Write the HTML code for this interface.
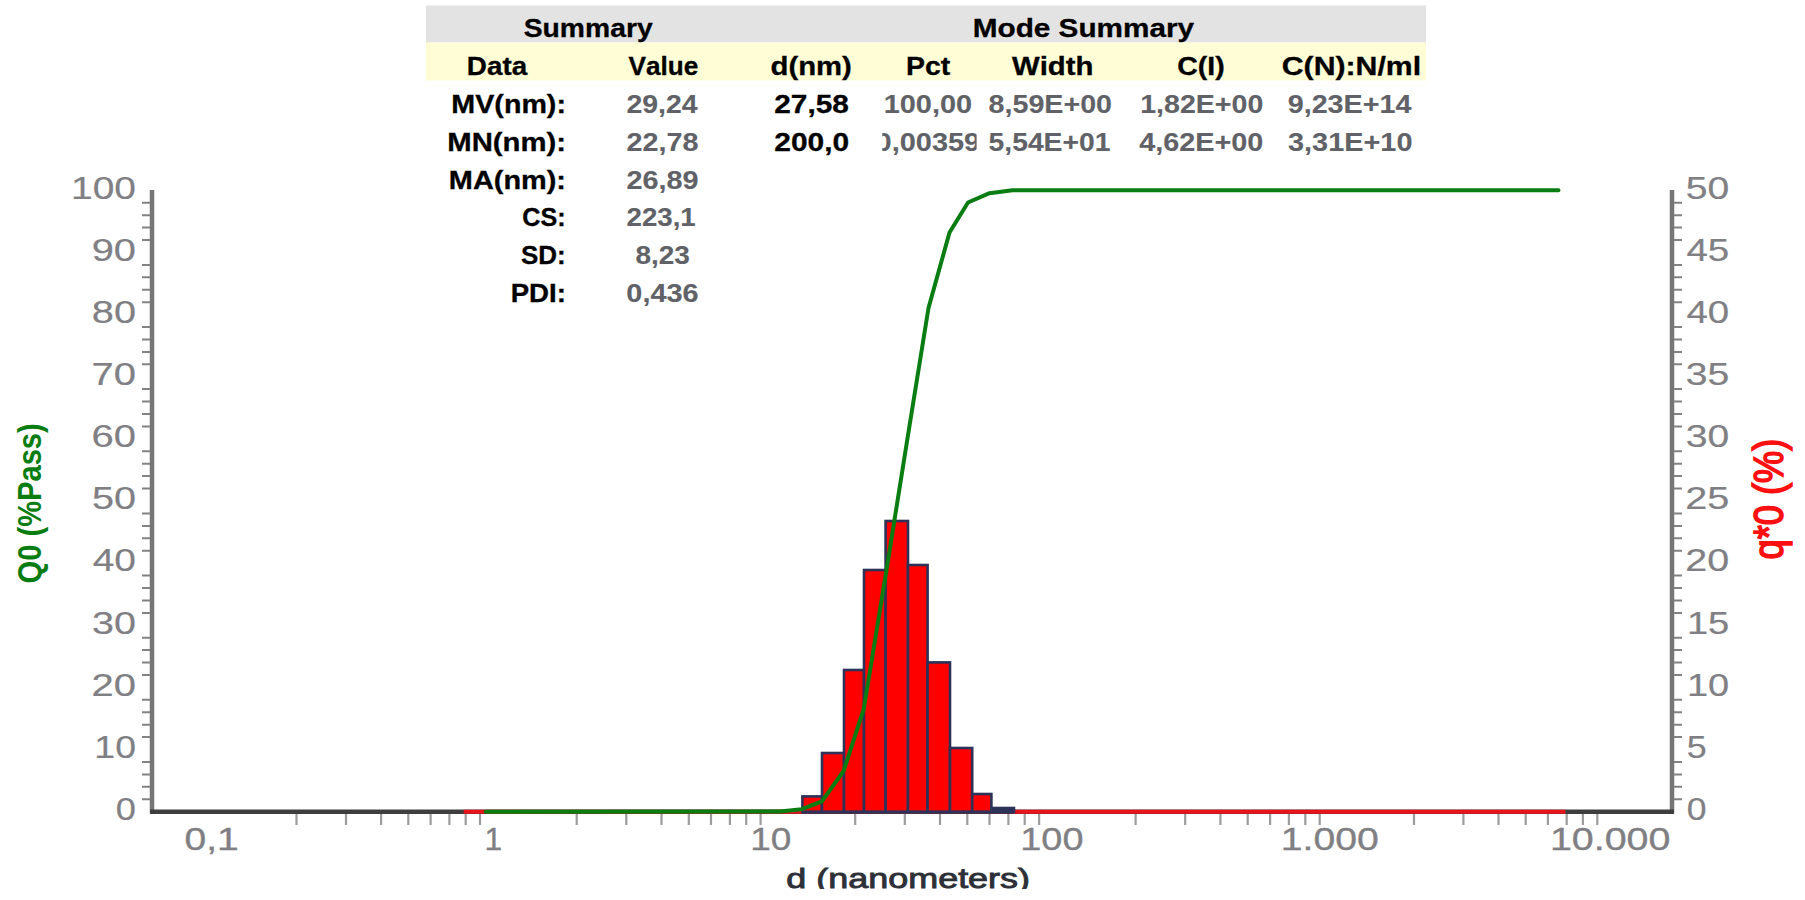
<!DOCTYPE html><html><head><meta charset="utf-8"><style>html,body{margin:0;padding:0;background:#fff;width:1805px;height:900px;overflow:hidden}svg{display:block}text{font-family:"Liberation Sans", sans-serif;font-kerning:none}</style></head><body>
<svg width="1805" height="900" viewBox="0 0 1805 900">
<defs><clipPath id="cpct"><rect x="882.3" y="120" width="94.3" height="40"/></clipPath><clipPath id="cxl"><rect x="700" y="850" width="400" height="39"/></clipPath></defs>
<rect x="426" y="5.5" width="1000" height="37" fill="#e3e3e3"/>
<rect x="426" y="42.5" width="1000" height="38" fill="#fffdd6"/>
<text x="523.68" y="37.30" font-size="26" font-weight="bold" fill="#000" stroke="#000" stroke-width="0.3" textLength="128.97" lengthAdjust="spacingAndGlyphs">Summary</text>
<text x="972.71" y="37.30" font-size="26" font-weight="bold" fill="#000" stroke="#000" stroke-width="0.3" textLength="221.45" lengthAdjust="spacingAndGlyphs">Mode Summary</text>
<text x="466.84" y="75.20" font-size="26" font-weight="bold" fill="#000" stroke="#000" stroke-width="0.3" textLength="60.28" lengthAdjust="spacingAndGlyphs">Data</text>
<text x="628.62" y="75.20" font-size="26" font-weight="bold" fill="#000" stroke="#000" stroke-width="0.3" textLength="69.77" lengthAdjust="spacingAndGlyphs">Value</text>
<text x="770.50" y="75.20" font-size="26" font-weight="bold" fill="#000" stroke="#000" stroke-width="0.3" textLength="81.36" lengthAdjust="spacingAndGlyphs">d(nm)</text>
<text x="906.10" y="75.20" font-size="26" font-weight="bold" fill="#000" stroke="#000" stroke-width="0.3" textLength="44.25" lengthAdjust="spacingAndGlyphs">Pct</text>
<text x="1011.97" y="75.20" font-size="26" font-weight="bold" fill="#000" stroke="#000" stroke-width="0.3" textLength="81.45" lengthAdjust="spacingAndGlyphs">Width</text>
<text x="1177.33" y="75.20" font-size="26" font-weight="bold" fill="#000" stroke="#000" stroke-width="0.3" textLength="47.38" lengthAdjust="spacingAndGlyphs">C(I)</text>
<text x="1281.76" y="75.20" font-size="26" font-weight="bold" fill="#000" stroke="#000" stroke-width="0.3" textLength="139.38" lengthAdjust="spacingAndGlyphs">C(N):N/ml</text>
<text x="451.38" y="113.00" font-size="26" font-weight="bold" fill="#000" stroke="#000" stroke-width="0.3" textLength="114.57" lengthAdjust="spacingAndGlyphs">MV(nm):</text>
<text x="447.34" y="150.80" font-size="26" font-weight="bold" fill="#000" stroke="#000" stroke-width="0.3" textLength="118.67" lengthAdjust="spacingAndGlyphs">MN(nm):</text>
<text x="448.87" y="188.50" font-size="26" font-weight="bold" fill="#000" stroke="#000" stroke-width="0.3" textLength="117.11" lengthAdjust="spacingAndGlyphs">MA(nm):</text>
<text x="522.27" y="226.20" font-size="26" font-weight="bold" fill="#000" stroke="#000" stroke-width="0.3" textLength="43.35" lengthAdjust="spacingAndGlyphs">CS:</text>
<text x="520.95" y="264.00" font-size="26" font-weight="bold" fill="#000" stroke="#000" stroke-width="0.3" textLength="44.75" lengthAdjust="spacingAndGlyphs">SD:</text>
<text x="510.65" y="301.70" font-size="26" font-weight="bold" fill="#000" stroke="#000" stroke-width="0.3" textLength="55.20" lengthAdjust="spacingAndGlyphs">PDI:</text>
<text x="626.51" y="113.00" font-size="26" font-weight="bold" fill="#606267" stroke="#606267" stroke-width="0.1" textLength="71.14" lengthAdjust="spacingAndGlyphs">29,24</text>
<text x="626.50" y="150.80" font-size="26" font-weight="bold" fill="#606267" stroke="#606267" stroke-width="0.1" textLength="71.88" lengthAdjust="spacingAndGlyphs">22,78</text>
<text x="626.50" y="188.50" font-size="26" font-weight="bold" fill="#606267" stroke="#606267" stroke-width="0.1" textLength="72.07" lengthAdjust="spacingAndGlyphs">26,89</text>
<text x="626.54" y="226.20" font-size="26" font-weight="bold" fill="#606267" stroke="#606267" stroke-width="0.1" textLength="69.23" lengthAdjust="spacingAndGlyphs">223,1</text>
<text x="635.41" y="264.00" font-size="26" font-weight="bold" fill="#606267" stroke="#606267" stroke-width="0.1" textLength="54.40" lengthAdjust="spacingAndGlyphs">8,23</text>
<text x="626.36" y="301.70" font-size="26" font-weight="bold" fill="#606267" stroke="#606267" stroke-width="0.1" textLength="72.18" lengthAdjust="spacingAndGlyphs">0,436</text>
<text x="774.27" y="113.00" font-size="26" font-weight="bold" fill="#000" stroke="#000" stroke-width="0.3" textLength="74.55" lengthAdjust="spacingAndGlyphs">27,58</text>
<text x="774.26" y="150.80" font-size="26" font-weight="bold" fill="#000" stroke="#000" stroke-width="0.3" textLength="74.86" lengthAdjust="spacingAndGlyphs">200,0</text>
<text x="883.68" y="113.00" font-size="26" font-weight="bold" fill="#606267" stroke="#606267" stroke-width="0.1" textLength="88.41" lengthAdjust="spacingAndGlyphs">100,00</text>
<text x="875.64" y="150.80" font-size="26" font-weight="bold" fill="#606267" stroke="#606267" stroke-width="0.1" textLength="104.48" lengthAdjust="spacingAndGlyphs" clip-path="url(#cpct)">0,00359</text>
<text x="988.59" y="113.00" font-size="26" font-weight="bold" fill="#606267" stroke="#606267" stroke-width="0.1" textLength="123.48" lengthAdjust="spacingAndGlyphs">8,59E+00</text>
<text x="988.63" y="150.80" font-size="26" font-weight="bold" fill="#606267" stroke="#606267" stroke-width="0.1" textLength="121.76" lengthAdjust="spacingAndGlyphs">5,54E+01</text>
<text x="1140.20" y="113.00" font-size="26" font-weight="bold" fill="#606267" stroke="#606267" stroke-width="0.1" textLength="123.17" lengthAdjust="spacingAndGlyphs">1,82E+00</text>
<text x="1139.16" y="150.80" font-size="26" font-weight="bold" fill="#606267" stroke="#606267" stroke-width="0.1" textLength="124.22" lengthAdjust="spacingAndGlyphs">4,62E+00</text>
<text x="1287.70" y="113.00" font-size="26" font-weight="bold" fill="#606267" stroke="#606267" stroke-width="0.1" textLength="123.75" lengthAdjust="spacingAndGlyphs">9,23E+14</text>
<text x="1288.04" y="150.80" font-size="26" font-weight="bold" fill="#606267" stroke="#606267" stroke-width="0.1" textLength="124.45" lengthAdjust="spacingAndGlyphs">3,31E+10</text>
<line x1="152" y1="190" x2="152" y2="813" stroke="#767676" stroke-width="4.5"/>
<line x1="1672" y1="190" x2="1672" y2="813" stroke="#767676" stroke-width="4.5"/>
<path d="M142 799.3H150M1674 799.3H1682M142 786.8H150M1674 786.8H1682M142 774.4H150M1674 774.4H1682M142 762.0H150M1674 762.0H1682M142 737.1H150M1674 737.1H1682M142 724.7H150M1674 724.7H1682M142 712.3H150M1674 712.3H1682M142 699.8H150M1674 699.8H1682M142 675.0H150M1674 675.0H1682M142 662.6H150M1674 662.6H1682M142 650.1H150M1674 650.1H1682M142 637.7H150M1674 637.7H1682M142 612.9H150M1674 612.9H1682M142 600.4H150M1674 600.4H1682M142 588.0H150M1674 588.0H1682M142 575.6H150M1674 575.6H1682M142 550.7H150M1674 550.7H1682M142 538.3H150M1674 538.3H1682M142 525.9H150M1674 525.9H1682M142 513.4H150M1674 513.4H1682M142 488.6H150M1674 488.6H1682M142 476.1H150M1674 476.1H1682M142 463.7H150M1674 463.7H1682M142 451.3H150M1674 451.3H1682M142 426.4H150M1674 426.4H1682M142 414.0H150M1674 414.0H1682M142 401.6H150M1674 401.6H1682M142 389.1H150M1674 389.1H1682M142 364.3H150M1674 364.3H1682M142 351.9H150M1674 351.9H1682M142 339.4H150M1674 339.4H1682M142 327.0H150M1674 327.0H1682M142 302.2H150M1674 302.2H1682M142 289.7H150M1674 289.7H1682M142 277.3H150M1674 277.3H1682M142 264.9H150M1674 264.9H1682M142 240.0H150M1674 240.0H1682M142 227.6H150M1674 227.6H1682M142 215.2H150M1674 215.2H1682M142 202.7H150M1674 202.7H1682" stroke="#828282" stroke-width="2" fill="none"/>
<path d="M296.5 814V825M346.0 814V825M381.1 814V825M408.3 814V825M430.6 814V825M449.4 814V825M465.7 814V825M480.0 814V825M576.7 814V825M626.3 814V825M661.5 814V825M688.8 814V825M711.0 814V825M729.9 814V825M746.2 814V825M760.6 814V825M855.2 814V825M904.8 814V825M940.0 814V825M967.3 814V825M989.5 814V825M1008.4 814V825M1024.7 814V825M1039.1 814V825M1135.6 814V825M1185.2 814V825M1220.4 814V825M1247.7 814V825M1270.1 814V825M1288.9 814V825M1305.3 814V825M1319.7 814V825M1414.0 814V825M1463.4 814V825M1498.5 814V825M1525.7 814V825M1547.9 814V825M1566.7 814V825M1582.9 814V825M1597.3 814V825" stroke="#9c9c9c" stroke-width="2.2" fill="none"/>
<text x="115.79" y="820.00" font-size="30.5" font-weight="normal" fill="#808084" stroke="#808084" stroke-width="0.2" textLength="20.13" lengthAdjust="spacingAndGlyphs">0</text>
<text x="94.35" y="757.86" font-size="30.5" font-weight="normal" fill="#808084" stroke="#808084" stroke-width="0.2" textLength="41.61" lengthAdjust="spacingAndGlyphs">10</text>
<text x="91.59" y="695.72" font-size="30.5" font-weight="normal" fill="#808084" stroke="#808084" stroke-width="0.2" textLength="44.47" lengthAdjust="spacingAndGlyphs">20</text>
<text x="92.10" y="633.58" font-size="30.5" font-weight="normal" fill="#808084" stroke="#808084" stroke-width="0.2" textLength="43.95" lengthAdjust="spacingAndGlyphs">30</text>
<text x="92.71" y="571.44" font-size="30.5" font-weight="normal" fill="#808084" stroke="#808084" stroke-width="0.2" textLength="43.31" lengthAdjust="spacingAndGlyphs">40</text>
<text x="92.02" y="509.30" font-size="30.5" font-weight="normal" fill="#808084" stroke="#808084" stroke-width="0.2" textLength="44.03" lengthAdjust="spacingAndGlyphs">50</text>
<text x="91.57" y="447.16" font-size="30.5" font-weight="normal" fill="#808084" stroke="#808084" stroke-width="0.2" textLength="44.49" lengthAdjust="spacingAndGlyphs">60</text>
<text x="91.55" y="385.02" font-size="30.5" font-weight="normal" fill="#808084" stroke="#808084" stroke-width="0.2" textLength="44.52" lengthAdjust="spacingAndGlyphs">70</text>
<text x="91.87" y="322.88" font-size="30.5" font-weight="normal" fill="#808084" stroke="#808084" stroke-width="0.2" textLength="44.18" lengthAdjust="spacingAndGlyphs">80</text>
<text x="91.73" y="260.74" font-size="30.5" font-weight="normal" fill="#808084" stroke="#808084" stroke-width="0.2" textLength="44.32" lengthAdjust="spacingAndGlyphs">90</text>
<text x="71.03" y="198.60" font-size="30.5" font-weight="normal" fill="#808084" stroke="#808084" stroke-width="0.2" textLength="64.99" lengthAdjust="spacingAndGlyphs">100</text>
<text x="1686.81" y="820.00" font-size="30.5" font-weight="normal" fill="#808084" stroke="#808084" stroke-width="0.2" textLength="19.78" lengthAdjust="spacingAndGlyphs">0</text>
<text x="1686.76" y="757.86" font-size="30.5" font-weight="normal" fill="#808084" stroke="#808084" stroke-width="0.2" textLength="19.94" lengthAdjust="spacingAndGlyphs">5</text>
<text x="1686.90" y="695.72" font-size="30.5" font-weight="normal" fill="#808084" stroke="#808084" stroke-width="0.2" textLength="42.28" lengthAdjust="spacingAndGlyphs">10</text>
<text x="1686.90" y="633.58" font-size="30.5" font-weight="normal" fill="#808084" stroke="#808084" stroke-width="0.2" textLength="42.40" lengthAdjust="spacingAndGlyphs">15</text>
<text x="1685.31" y="571.44" font-size="30.5" font-weight="normal" fill="#808084" stroke="#808084" stroke-width="0.2" textLength="43.93" lengthAdjust="spacingAndGlyphs">20</text>
<text x="1685.31" y="509.30" font-size="30.5" font-weight="normal" fill="#808084" stroke="#808084" stroke-width="0.2" textLength="44.06" lengthAdjust="spacingAndGlyphs">25</text>
<text x="1685.81" y="447.16" font-size="30.5" font-weight="normal" fill="#808084" stroke="#808084" stroke-width="0.2" textLength="43.41" lengthAdjust="spacingAndGlyphs">30</text>
<text x="1685.81" y="385.02" font-size="30.5" font-weight="normal" fill="#808084" stroke="#808084" stroke-width="0.2" textLength="43.53" lengthAdjust="spacingAndGlyphs">35</text>
<text x="1686.42" y="322.88" font-size="30.5" font-weight="normal" fill="#808084" stroke="#808084" stroke-width="0.2" textLength="42.79" lengthAdjust="spacingAndGlyphs">40</text>
<text x="1686.41" y="260.74" font-size="30.5" font-weight="normal" fill="#808084" stroke="#808084" stroke-width="0.2" textLength="42.90" lengthAdjust="spacingAndGlyphs">45</text>
<text x="1685.73" y="198.60" font-size="30.5" font-weight="normal" fill="#808084" stroke="#808084" stroke-width="0.2" textLength="43.49" lengthAdjust="spacingAndGlyphs">50</text>
<text x="184.48" y="849.50" font-size="30.5" font-weight="normal" fill="#808084" stroke="#808084" stroke-width="0.35" textLength="54.23" lengthAdjust="spacingAndGlyphs">0,1</text>
<text x="484.58" y="849.50" font-size="30.5" font-weight="normal" fill="#808084" stroke="#808084" stroke-width="0.35" textLength="17.67" lengthAdjust="spacingAndGlyphs">1</text>
<text x="750.18" y="849.50" font-size="30.5" font-weight="normal" fill="#808084" stroke="#808084" stroke-width="0.35" textLength="41.16" lengthAdjust="spacingAndGlyphs">10</text>
<text x="1020.32" y="849.50" font-size="30.5" font-weight="normal" fill="#808084" stroke="#808084" stroke-width="0.35" textLength="63.16" lengthAdjust="spacingAndGlyphs">100</text>
<text x="1280.72" y="849.50" font-size="30.5" font-weight="normal" fill="#808084" stroke="#808084" stroke-width="0.35" textLength="98.01" lengthAdjust="spacingAndGlyphs">1.000</text>
<text x="1549.90" y="849.50" font-size="30.5" font-weight="normal" fill="#808084" stroke="#808084" stroke-width="0.35" textLength="120.54" lengthAdjust="spacingAndGlyphs">10.000</text>
<text x="786.39" y="888.20" font-size="28" font-weight="normal" fill="#2e3038" stroke="#2e3038" stroke-width="0.9" textLength="243.64" lengthAdjust="spacingAndGlyphs" clip-path="url(#cxl)">d (nanometers)</text>
<line x1="150" y1="811.7" x2="1674" y2="811.7" stroke="#3e3e3e" stroke-width="4.5"/>
<line x1="463.7" y1="811.7" x2="1565.4" y2="811.7" stroke="#e8141c" stroke-width="4"/>
<line x1="802" y1="811.7" x2="1014" y2="811.7" stroke="#2c3258" stroke-width="4"/>
<rect x="802.4" y="796.4" width="19.6" height="15.3" fill="#ff0000" stroke="#2c3258" stroke-width="2.6"/>
<rect x="822.0" y="753.0" width="22.0" height="58.7" fill="#ff0000" stroke="#2c3258" stroke-width="2.6"/>
<rect x="844.0" y="670.0" width="20.0" height="141.7" fill="#ff0000" stroke="#2c3258" stroke-width="2.6"/>
<rect x="864.0" y="570.0" width="21.6" height="241.7" fill="#ff0000" stroke="#2c3258" stroke-width="2.6"/>
<rect x="885.6" y="521.0" width="22.4" height="290.7" fill="#ff0000" stroke="#2c3258" stroke-width="2.6"/>
<rect x="908.0" y="565.0" width="19.6" height="246.7" fill="#ff0000" stroke="#2c3258" stroke-width="2.6"/>
<rect x="927.6" y="662.4" width="22.4" height="149.3" fill="#ff0000" stroke="#2c3258" stroke-width="2.6"/>
<rect x="950.0" y="748.0" width="22.2" height="63.7" fill="#ff0000" stroke="#2c3258" stroke-width="2.6"/>
<rect x="972.2" y="794.0" width="19.2" height="17.7" fill="#ff0000" stroke="#2c3258" stroke-width="2.6"/>
<rect x="991.4" y="808.0" width="22.6" height="3.7" fill="#2c3258" stroke="#2c3258" stroke-width="2.6"/>
<path d="M485.7 811.7 L780.0 811.4 L801.7 809.2 L821.9 801.3 L843.6 771.0 L863.8 708.8 L886.5 570.0 L908.5 432.0 L928.5 308.0 L949.5 232.5 L968.0 202.5 L989.5 193.2 L1012.5 190.3 L1558.5 190.3" stroke="#0a7d12" stroke-width="4" fill="none" stroke-linejoin="round" stroke-linecap="round"/>
<text x="-1.19" y="0" font-size="28.6" font-weight="bold" fill="#0a7d12" textLength="160.24" lengthAdjust="spacingAndGlyphs" transform="translate(41.10,582.30) rotate(-90) scale(1,1.19)">Q0 (%Pass)</text>
<text x="-1.52" y="0" font-size="26" font-weight="normal" fill="#ff1010" stroke="#ff1010" stroke-width="1.0" textLength="120.77" lengthAdjust="spacingAndGlyphs" transform="translate(1782.50,558.00) rotate(-90) scale(1,1.6)">q*0 (%)</text>
</svg></body></html>
